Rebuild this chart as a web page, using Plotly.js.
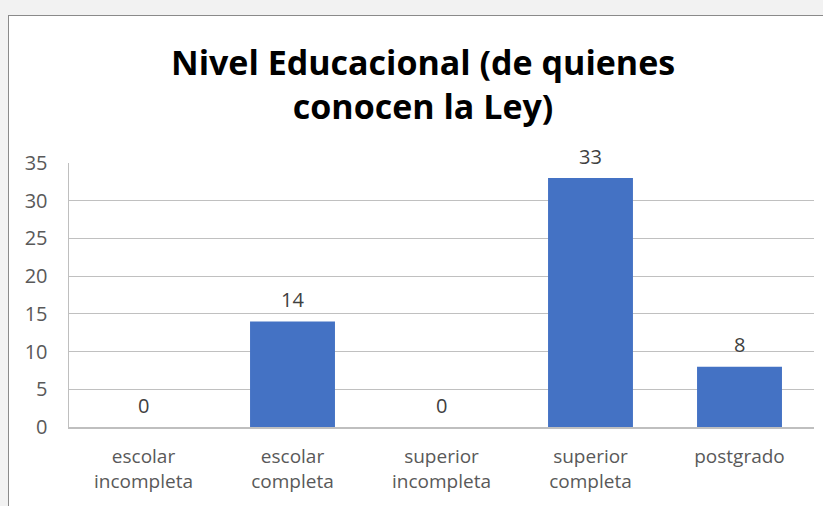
<!DOCTYPE html>
<html><head><meta charset="utf-8">
<script src="https://cdn.plot.ly/plotly-3.0.1.min.js"></script>
<style>
html,body{margin:0;padding:0;width:823px;height:506px;overflow:hidden;background:#f2f2f2;}
#wrap{position:absolute;left:8px;top:15px;width:830px;height:500px;background:#fff;border-top:1px solid #8a8a8a;border-left:1px solid #8a8a8a;}
#chart{position:absolute;left:0;top:0;width:815px;height:490px;}
</style></head>
<body><div id="wrap"><div id="chart"></div></div>
<script>
const categories = ["escolar<br>incompleta","escolar<br>completa","superior<br>incompleta","superior<br>completa","postgrado"];
const values = [0, 14, 0, 33, 8];
const yTicks = [0,5,10,15,20,25,30,35];
const titleText = '<b>Nivel Educacional (de quienes<br>conocen la Ley)</b>';

const font = "Open Sans, Lato, sans-serif";
const trace = {type:'bar', x:categories, y:values, width:0.57,
  marker:{color:'#4472C4'}, hoverinfo:'none'};
const annotations = categories.map((c,i)=>({x:c, y:values[i], xref:'x', yref:'y',
  text:String(values[i]), showarrow:false, yshift:22,
  font:{family:font, size:20, color:'#404040'}}));
annotations.push({text:titleText, xref:'paper', yref:'paper', x:0.475, y:1.3,
  xanchor:'center', yanchor:'middle', showarrow:false,
  font:{family:font, size:34, color:'#000000'}});

const layout = {
  width:815, height:490,
  margin:{l:60, r:10, t:147, b:79},
  paper_bgcolor:'#ffffff', plot_bgcolor:'#ffffff',
  showlegend:false,
  xaxis:{type:'category', showgrid:false, zeroline:false, showline:true, linecolor:'#bfbfbf', linewidth:1.5,
    mirror:false, ticks:'', ticklabelstandoff:12, tickfont:{family:font, size:19, color:'#595959'}, fixedrange:true},
  yaxis:{range:[0,35], tickvals:yTicks, showgrid:true, gridcolor:'#c0c0c0', gridwidth:1,
    zeroline:false, showline:true, linecolor:'#bfbfbf', linewidth:1.5, ticks:'', ticklabelstandoff:16,
    tickfont:{family:font, size:20, color:'#595959'}, fixedrange:true},
  annotations:annotations
};
Plotly.newPlot('chart',[trace],layout,{displayModeBar:false, staticPlot:true});
</script></body></html>
